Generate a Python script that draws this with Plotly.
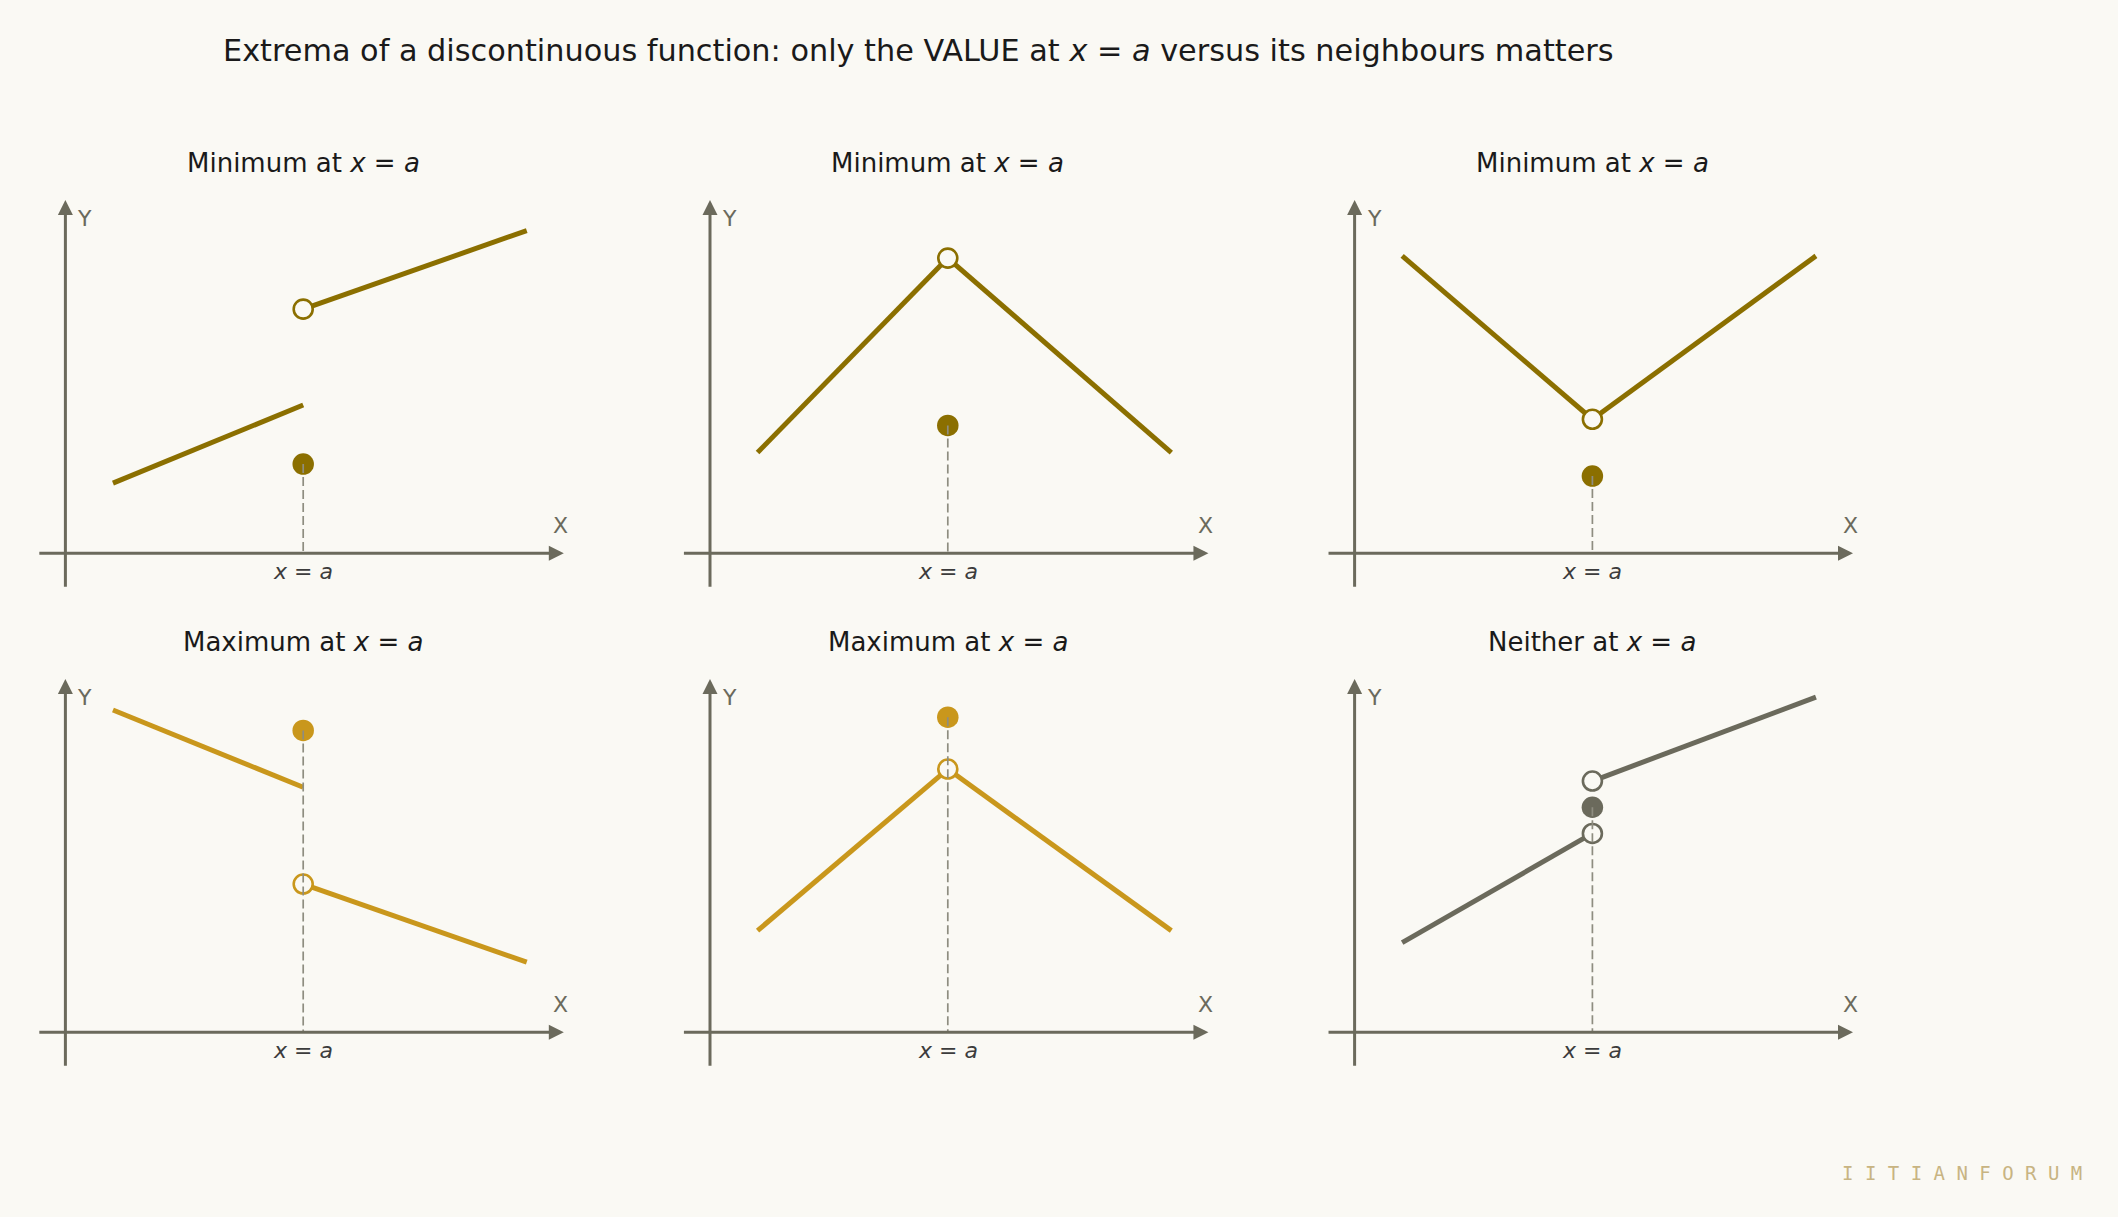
import plotly.graph_objects as go

# ---------------- data ----------------
A = 5.0                       # position of x = a
SEG_LEFT_X = [1.0, 5.0]       # x of the left piece
SEG_RIGHT_X = [5.0, 9.7]      # x of the right piece

titles = [
    "Minimum at <i>x</i> = <i>a</i>",
    "Minimum at <i>x</i> = <i>a</i>",
    "Minimum at <i>x</i> = <i>a</i>",
    "Maximum at <i>x</i> = <i>a</i>",
    "Maximum at <i>x</i> = <i>a</i>",
    "Neither at <i>x</i> = <i>a</i>",
]
left_y = [
    [1.58, 3.34],
    [2.27, 6.65],
    [6.70, 3.02],
    [7.26, 5.52],
    [2.29, 5.93],
    [2.02, 4.48],
]
right_y = [
    [5.50, 7.27],
    [6.65, 2.27],
    [3.02, 6.70],
    [3.34, 1.58],
    [5.93, 2.29],
    [5.66, 7.55],
]
open_y = [
    [5.50],
    [6.65],
    [3.02],
    [3.34],
    [5.93],
    [4.48, 5.66],
]
filled_y = [2.01, 2.88, 1.74, 6.80, 7.10, 5.07]

# axis extents (data units)
X_AXIS_MIN, X_AXIS_MAX = -0.58, 10.48
Y_AXIS_MIN, Y_AXIS_MAX = -0.79, 7.96

# ---------------- styling ----------------
BG = "#FAF9F4"
DARK_GOLD = "#8B6F00"
LIGHT_GOLD = "#C9971C"
GRAY = "#6B6A5C"
DASH = "#8E8D80"
panel_colors = [DARK_GOLD, DARK_GOLD, DARK_GOLD, LIGHT_GOLD, LIGHT_GOLD, GRAY]
FONT = "DejaVu Sans"

W, H = 2118, 1217
PX = 47.56                             # pixels per x unit
PY = 44.39                             # pixels per y unit
COL_X0 = [65.4, 710.0, 1354.6]         # pixel x of origin per column
ROW_Y0 = [553.3, 1032.3]               # pixel y (from top) of origin per row
XR = [-1.0, 11.0]
YR = [-1.2, 8.4]

fig = go.Figure()
annotations = []

for i in range(6):
    r, c = divmod(i, 3)
    n = i + 1
    xa = "x" if n == 1 else f"x{n}"
    ya = "y" if n == 1 else f"y{n}"
    x0, y0 = COL_X0[c], ROW_Y0[r]
    dom_x = [(x0 + XR[0] * PX) / W, (x0 + XR[1] * PX) / W]
    dom_y = [(H - (y0 - YR[0] * PY)) / H, (H - (y0 - YR[1] * PY)) / H]
    axkw = dict(visible=False, fixedrange=True, showgrid=False, zeroline=False)
    fig.layout[f"xaxis{'' if n == 1 else n}"] = dict(domain=dom_x, range=XR, anchor=ya, **axkw)
    fig.layout[f"yaxis{'' if n == 1 else n}"] = dict(domain=dom_y, range=YR, anchor=xa, **axkw)

    col = panel_colors[i]
    # pieces of the function
    fig.add_trace(go.Scatter(x=SEG_LEFT_X, y=left_y[i], mode="lines",
                             line=dict(color=col, width=5.0), xaxis=xa, yaxis=ya,
                             showlegend=False, hoverinfo="skip"))
    fig.add_trace(go.Scatter(x=SEG_RIGHT_X, y=right_y[i], mode="lines",
                             line=dict(color=col, width=5.0), xaxis=xa, yaxis=ya,
                             showlegend=False, hoverinfo="skip"))
    # open circles
    fig.add_trace(go.Scatter(x=[A] * len(open_y[i]), y=open_y[i], mode="markers",
                             marker=dict(size=19, color=BG, line=dict(color=col, width=2.6)),
                             xaxis=xa, yaxis=ya, showlegend=False, hoverinfo="skip"))
    # filled value at x = a
    fig.add_trace(go.Scatter(x=[A], y=[filled_y[i]], mode="markers",
                             marker=dict(size=21.5, color=col, line=dict(width=0)),
                             xaxis=xa, yaxis=ya, showlegend=False, hoverinfo="skip"))
    # dashed drop line
    fig.add_trace(go.Scatter(x=[A, A], y=[filled_y[i], 0], mode="lines",
                             line=dict(color=DASH, width=1.7, dash="9px,4px"),
                             xaxis=xa, yaxis=ya, showlegend=False, hoverinfo="skip"))

    # axes with arrow heads
    annotations.append(dict(x=X_AXIS_MAX, y=0, ax=X_AXIS_MIN, ay=0, xref=xa, yref=ya,
                            axref=xa, ayref=ya, text="", showarrow=True, arrowhead=2,
                            arrowsize=1.0, arrowwidth=3.0, arrowcolor=GRAY, standoff=0))
    annotations.append(dict(x=0, y=Y_AXIS_MAX, ax=0, ay=Y_AXIS_MIN, xref=xa, yref=ya,
                            axref=xa, ayref=ya, text="", showarrow=True, arrowhead=2,
                            arrowsize=1.0, arrowwidth=3.0, arrowcolor=GRAY, standoff=0))
    # axis letters
    annotations.append(dict(x=0.21, y=7.55, xref=xa, yref=ya, text="Y", showarrow=False,
                            xanchor="left", yanchor="middle",
                            font=dict(family=FONT, size=22, color=GRAY)))
    annotations.append(dict(x=10.42, y=0.63, xref=xa, yref=ya, text="X", showarrow=False,
                            xanchor="center", yanchor="middle",
                            font=dict(family=FONT, size=22, color=GRAY)))
    annotations.append(dict(x=A, y=-0.42, xref=xa, yref=ya, text="<i>x</i> = <i>a</i>",
                            showarrow=False, xanchor="center", yanchor="middle",
                            font=dict(family=FONT, size=22, color="#3C3C3C")))
    # panel title
    annotations.append(dict(x=(x0 + A * PX) / W, y=1 - (y0 - 390.3) / H, xref="paper",
                            yref="paper", text=titles[i], showarrow=False,
                            xanchor="center", yanchor="middle",
                            font=dict(family=FONT, size=26, color="#1A1A1A")))

annotations.append(dict(x=918 / W, y=1 - 50 / H, xref="paper", yref="paper",
                        text="Extrema of a discontinuous function: only the VALUE at <i>x</i> = <i>a</i> versus its neighbours matters",
                        showarrow=False, xanchor="center", yanchor="middle",
                        font=dict(family=FONT, size=30.3, color="#1A1A1A")))
annotations.append(dict(x=2084 / W, y=1 - 1172.5 / H, xref="paper", yref="paper",
                        text="I I T I A N F O R U M", showarrow=False,
                        xanchor="right", yanchor="middle",
                        font=dict(family="DejaVu Sans Mono", size=19, color="#C8B482")))

fig.update_layout(width=W, height=H, margin=dict(l=0, r=0, t=0, b=0),
                  paper_bgcolor=BG, plot_bgcolor=BG, showlegend=False,
                  annotations=annotations, font=dict(family=FONT))

fig.write_html("out.html", config={"displayModeBar": False},
               post_script="document.body.style.margin='0';document.body.style.overflow='hidden';")
